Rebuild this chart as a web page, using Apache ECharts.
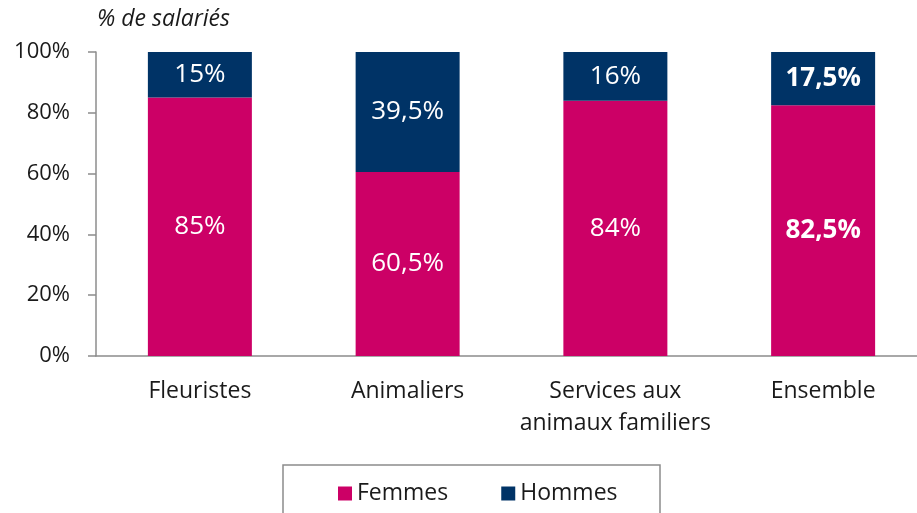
<!DOCTYPE html>
<html>
<head>
<meta charset="utf-8">
<script src="https://cdn.jsdelivr.net/npm/echarts@6/dist/echarts.min.js"></script>
<style>
  html, body { margin: 0; padding: 0; background: #fff; }
  #chart { width: 917px; height: 513px; }
</style>
</head>
<body>
<div id="chart"></div>
<script>
const categories = ['Fleuristes', 'Animaliers', 'Services aux\nanimaux familiers', 'Ensemble'];
const femmes = [85, 60.5, 84, 82.5];
const hommes = [15, 39.5, 16, 17.5];
const yTicks = [0, 20, 40, 60, 80, 100];

const FONT = '"Open Sans", sans-serif';
const fmt = v => String(v).replace('.', ',') + '%';

// la dernière catégorie (Ensemble) est en gras
function withBold(values) {
  return values.map((v, i) => ({
    value: v,
    label: i === values.length - 1 ? { fontWeight: 'bold' } : undefined
  }));
}

const chart = echarts.init(document.getElementById('chart'));
chart.setOption({
  animation: false,
  textStyle: { fontFamily: FONT },
  // la zone de tracé déborde un peu à droite de l'image
  grid: { left: 96, width: 831, top: 52, bottom: 157, outerBoundsMode: 'none' },
  graphic: [{
    type: 'text',
    left: 97, top: 8,
    style: { text: '% de salariés', font: 'italic 23px ' + FONT, fill: '#1a1a1a' }
  }, {
    type: 'rect',
    shape: { x: 283, y: 465, width: 377, height: 60 },
    style: { fill: 'none', stroke: '#8c8c8c', lineWidth: 1.5 }
  }],
  legend: {
    left: 333, top: 477,
    itemWidth: 14, itemHeight: 14, itemGap: 53,
    icon: 'rect',
    textStyle: { fontSize: 23, color: '#1a1a1a', fontFamily: FONT },
    data: ['Femmes', 'Hommes']
  },
  xAxis: {
    type: 'category',
    data: categories,
    axisLine: { lineStyle: { color: '#8c8c8c', width: 1.5 } },
    axisTick: { length: 7, lineStyle: { color: '#8c8c8c', width: 1.5 } },
    axisLabel: { fontSize: 23, color: '#1a1a1a', margin: 19, lineHeight: 32, interval: 0 }
  },
  yAxis: {
    type: 'value',
    min: yTicks[0], max: yTicks[yTicks.length - 1], interval: 20,
    axisLine: { show: true, lineStyle: { color: '#8c8c8c', width: 1.5 } },
    axisTick: { show: true, length: 8, lineStyle: { color: '#8c8c8c', width: 1.5 } },
    splitLine: { show: false },
    axisLabel: { fontSize: 22, color: '#1a1a1a', margin: 26, formatter: '{value}%' }
  },
  series: [{
    name: 'Femmes',
    type: 'bar',
    stack: 'total',
    barWidth: 104,
    itemStyle: { color: '#cc0066' },
    label: { show: true, position: 'inside', color: '#fff', fontSize: 26, fontFamily: FONT,
      formatter: p => fmt(p.value) },
    data: withBold(femmes)
  }, {
    name: 'Hommes',
    type: 'bar',
    stack: 'total',
    barWidth: 104,
    itemStyle: { color: '#003366' },
    label: { show: true, position: 'inside', color: '#fff', fontSize: 26, fontFamily: FONT,
      formatter: p => fmt(p.value) },
    data: withBold(hommes)
  }]
});
</script>
</body>
</html>
